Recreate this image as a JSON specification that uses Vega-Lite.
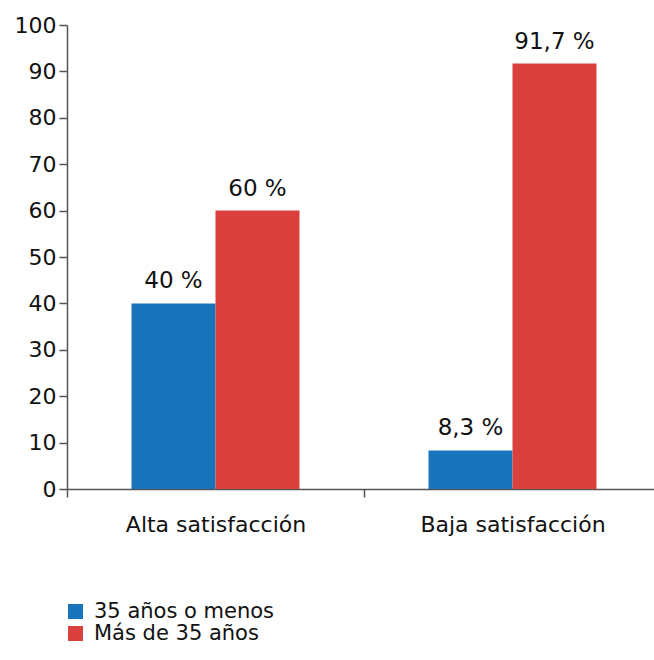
{
  "$schema": "https://vega.github.io/schema/vega-lite/v6.json",
  "width": 587,
  "height": 464,
  "autosize": {"type": "none"},
  "padding": {"left": 67, "top": 25, "right": 0, "bottom": 171},
  "background": "white",
  "config": {
    "view": {"stroke": null},
    "font": "DejaVu Sans",
    "axis": {"labelFont": "DejaVu Sans", "labelColor": "#111111", "domainColor": "#555555", "tickColor": "#555555", "domainWidth": 1.5, "tickWidth": 1.5, "grid": false, "title": null, "labelLimit": 0}
  },
  "data": {
    "values": [
      {"categoria": "Alta satisfacción", "grupo": "35 años o menos", "valor": 40, "label": "40 %"},
      {"categoria": "Alta satisfacción", "grupo": "Más de 35 años", "valor": 60, "label": "60 %"},
      {"categoria": "Baja satisfacción", "grupo": "35 años o menos", "valor": 8.3, "label": "8,3 %"},
      {"categoria": "Baja satisfacción", "grupo": "Más de 35 años", "valor": 91.7, "label": "91,7 %"}
    ]
  },
  "encoding": {
    "x": {
      "field": "categoria", "type": "nominal",
      "scale": {"paddingInner": 0, "paddingOuter": 0, "range": [0, 594]},
      "axis": {"labelAngle": 0, "tickBand": "extent", "tickSize": 8, "labelPadding": 17, "labelFontSize": 22, "labelLimit": 0}
    },
    "xOffset": {"field": "grupo", "type": "nominal", "scale": {"paddingInner": 0, "paddingOuter": 0.768}},
    "y": {
      "field": "valor", "type": "quantitative",
      "scale": {"domain": [0, 100]},
      "axis": {"values": [0, 10, 20, 30, 40, 50, 60, 70, 80, 90, 100], "tickSize": 8, "labelPadding": 3, "labelFontSize": 22}
    }
  },
  "layer": [
    {
      "mark": {"type": "bar"},
      "encoding": {
        "color": {
          "field": "grupo", "type": "nominal",
          "scale": {"domain": ["35 años o menos", "Más de 35 años"], "range": ["#1a74bb", "#d9403e"]},
          "legend": {
            "orient": "none", "legendX": -2, "legendY": 576, "direction": "vertical",
            "title": null, "symbolType": "square", "symbolSize": 225, "symbolStrokeWidth": 0,
            "labelFontSize": 21, "labelFont": "DejaVu Sans", "labelColor": "#111111", "labelOffset": 8, "rowPadding": 0, "labelLimit": 0
          }
        }
      }
    },
    {
      "mark": {"type": "text", "baseline": "alphabetic", "dy": -15, "fontSize": 23, "color": "#111111", "font": "DejaVu Sans"},
      "encoding": {"text": {"field": "label"}}
    }
  ]
}
